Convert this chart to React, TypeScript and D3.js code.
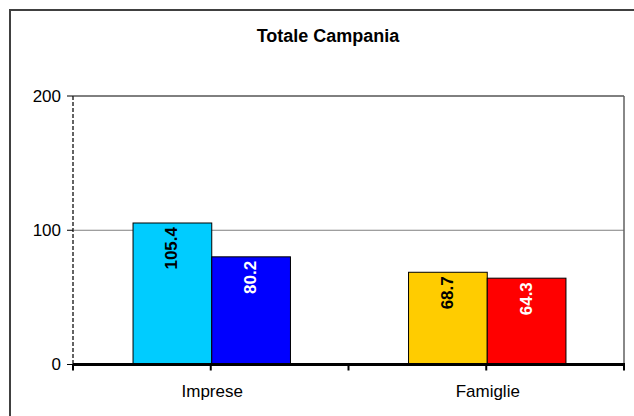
import React from "react";
import * as d3 from "d3";

const title = "Totale Campania";
const categories = ["Imprese", "Famiglie"];
const seriesFirst = [105.4, 68.7];
const seriesSecond = [80.2, 64.3];
const colorsFirst = ["#00CCFF", "#FFCC00"];
const colorsSecond = ["#0000FF", "#FF0000"];
const labelColorsFirst = ["#000000", "#000000"];
const labelColorsSecond = ["#FFFFFF", "#FFFFFF"];
const yTicks = [0, 100, 200];

const W = 634;
const H = 416;
const plot = { left: 73, right: 624, top: 96, bottom: 364.5 };
const FONT = "'Liberation Sans', Arial, sans-serif";

export default function App() {
  const x = d3.scaleBand<string>().domain(categories).range([plot.left, plot.right]).padding(0);
  const y = d3.scaleLinear().domain([0, 200]).range([plot.bottom, plot.top]);
  const step = x.step();
  const barW = step / 3.5;

  const xTicks: number[] = [];
  categories.forEach((c) => {
    xTicks.push(x(c)!);
    xTicks.push(x(c)! + step / 2);
  });
  xTicks.push(plot.right);

  const bars: { x: number; v: number; fill: string; lc: string }[] = [];
  categories.forEach((c, i) => {
    const cx = x(c)! + step / 2 + 1;
    bars.push({ x: cx - barW, v: seriesFirst[i], fill: colorsFirst[i], lc: labelColorsFirst[i] });
    bars.push({ x: cx, v: seriesSecond[i], fill: colorsSecond[i], lc: labelColorsSecond[i] });
  });

  return (
    <svg
      width={W}
      height={H}
      style={{ position: "absolute", left: 0, top: 0, background: "#fff" }}
      fontFamily={FONT}
    >
      <rect x={0} y={0} width={W} height={H} fill="#fff" />
      <rect x={10} y={10} width={W + 20} height={H + 20} fill="none" stroke="#404040" strokeWidth={2} />
      <text x={328} y={42} textAnchor="middle" fontWeight="bold" fontSize={18} fill="#000">
        {title}
      </text>

      {/* gridline */}
      {yTicks
        .filter((t) => t > 0 && t < 200)
        .map((t) => (
          <line key={"g" + t} x1={plot.left} x2={plot.right} y1={y(t)} y2={y(t)} stroke="#808080" strokeWidth={1} />
        ))}
      {/* plot frame top & right */}
      <line x1={plot.left} x2={plot.right} y1={y(200)} y2={y(200)} stroke="#000" strokeWidth={1} />
      <line x1={plot.right} x2={plot.right} y1={plot.top} y2={plot.bottom} stroke="#606060" strokeWidth={1.5} />

      {/* bars */}
      {bars.map((b, i) => (
        <g key={"b" + i}>
          <rect
            x={b.x}
            y={y(b.v)}
            width={barW}
            height={plot.bottom - y(b.v)}
            fill={b.fill}
            stroke="#000"
            strokeWidth={1}
          />
          <text
            transform={`translate(${b.x + barW / 2 + 5},${y(b.v) + 4}) rotate(-90)`}
            textAnchor="end"
            fontWeight="bold"
            fontSize={17}
            fill={b.lc}
          >
            {b.v.toFixed(1)}
          </text>
        </g>
      ))}

      {/* left axis dashed */}
      <line x1={plot.left} x2={plot.left} y1={plot.top} y2={plot.bottom} stroke="#303030" strokeWidth={1.5} strokeDasharray="4,2" />
      {/* y ticks & labels */}
      {yTicks.map((t) => (
        <g key={"y" + t}>
          <line x1={plot.left - 6} x2={plot.left} y1={y(t)} y2={y(t)} stroke="#000" strokeWidth={1} />
          <text x={61} y={y(t)} dy="0.35em" textAnchor="end" fontSize={17} fill="#000">
            {t}
          </text>
        </g>
      ))}
      {/* zero axis */}
      <line x1={plot.left} x2={plot.right + 1} y1={y(0)} y2={y(0)} stroke="#000" strokeWidth={3} />
      {xTicks.map((t, i) => (
        <line key={"xt" + i} x1={t} x2={t} y1={y(0)} y2={y(0) + 6} stroke="#000" strokeWidth={2} />
      ))}
      {categories.map((c) => (
        <text key={c} x={x(c)! + step / 2 + 1.5} y={397} textAnchor="middle" fontSize={17} fill="#000">
          {c}
        </text>
      ))}
    </svg>
  );
}
